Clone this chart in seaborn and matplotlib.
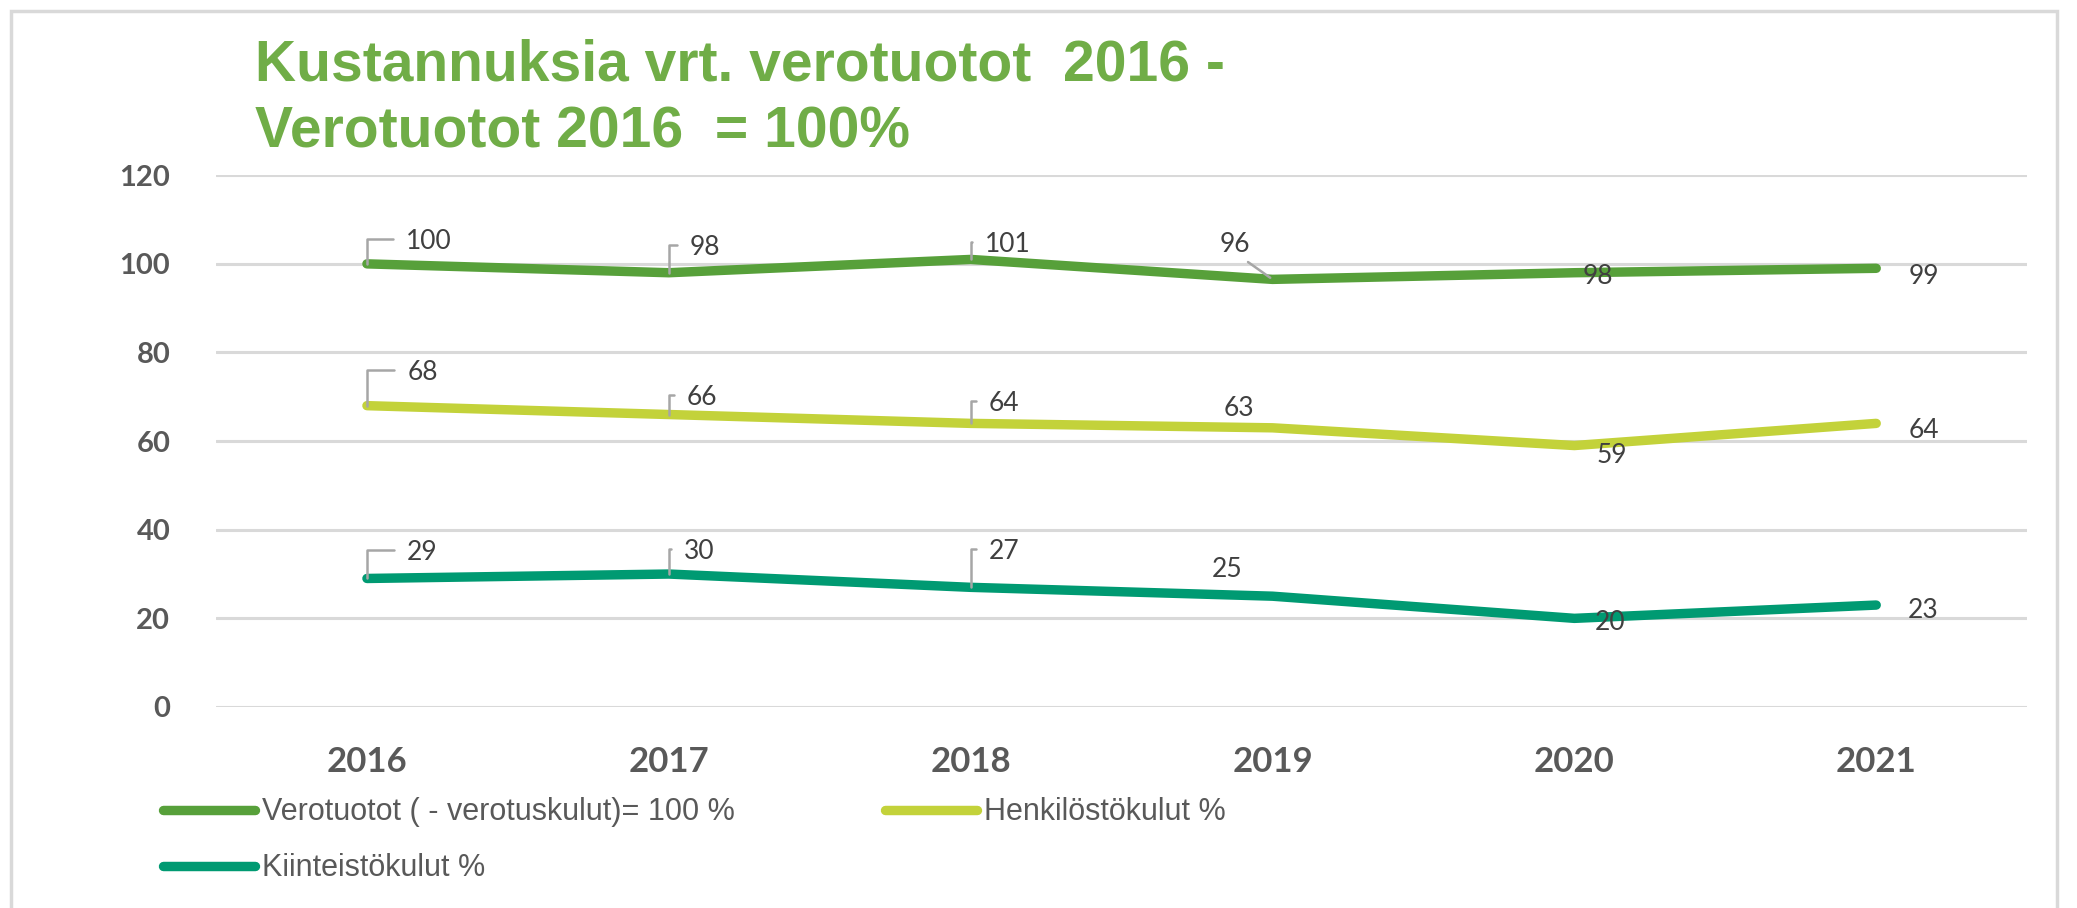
import matplotlib
matplotlib.use("Agg")
import matplotlib.pyplot as plt
import seaborn as sns
import pandas as pd
from matplotlib.patches import Rectangle

# data
years = ["2016", "2017", "2018", "2019", "2020", "2021"]
verotuotot = [100, 98, 101, 96, 98, 99]
henkilosto = [68, 66, 64, 63, 59, 64]
kiinteisto = [29, 30, 27, 25, 20, 23]
series_names = ["Verotuotot ( - verotuskulut)= 100 %", "Henkilöstökulut %", "Kiinteistökulut %"]
colors = ["#57A03A", "#C3D23A", "#009A72"]
title_lines = ["Kustannuksia vrt. verotuotot  2016 -", "Verotuotot 2016  = 100%"]
y_ticks = [0, 20, 40, 60, 80, 100, 120]

# line value shown at 2019 sits a bit lower than the label
line_values = [
    [100, 98, 101, 96.5, 98, 99],
    henkilosto,
    kiinteisto,
]
label_values = [verotuotot, henkilosto, kiinteisto]

# label offsets (points) and style: 'b' bracket leader, 'd' diagonal leader, '' none
label_pos = [
    [(28, 16, "b"), (15, 18, "b"), (10, 11, "b"), (-27, 25, "d"), (17, -3, ""), (34, -6, "")],
    [(29, 24, "b"), (13, 12, "b"), (13, 14, "b"), (-24, 14, ""), (27, -7, ""), (34, -5, "")],
    [(29, 19, "b"), (11, 16, "b"), (13, 26, "b"), (-33, 19, ""), (26, -3, ""), (34, -4, "")],
]

rows = []
for name, vals in zip(series_names, line_values):
    for y, v in zip(years, vals):
        rows.append({"vuosi": y, "arvo": v, "sarja": name})
df = pd.DataFrame(rows)

sns.set_theme(style="white")
plt.rcParams["font.family"] = ["Lato", "DejaVu Sans"]

fig = plt.figure(figsize=(20.77, 9.08), dpi=100)
ax = fig.add_axes([0.104, 0.2214, 0.872, 0.5856])

# gridlines
for t in y_ticks:
    ax.axhline(t, color="#D9D9D9", lw=2.2, zorder=0)

sns.lineplot(data=df, x="vuosi", y="arvo", hue="sarja", palette=colors,
             sort=False, lw=6.8, ax=ax, legend=False,
             solid_capstyle="round", solid_joinstyle="round")

ax.set_xlim(-0.5, 5.5)
ax.set_ylim(0, 120)
ax.set_yticks(y_ticks)
ax.set_xlabel("")
ax.set_ylabel("")
for s in ax.spines.values():
    s.set_visible(False)
ax.tick_params(axis="y", length=0, pad=33, labelsize=21, labelcolor="#595959")
ax.tick_params(axis="x", length=0, pad=28, labelsize=25, labelcolor="#595959")
for lab in ax.get_yticklabels() + ax.get_xticklabels():
    lab.set_fontweight("bold")

# data labels
for vals, lvals, pos in zip(line_values, label_values, label_pos):
    for i, (v, lv, (dx, dy, kind)) in enumerate(zip(vals, lvals, pos)):
        if kind == "b":
            ax.annotate(str(lv), xy=(i, v), xytext=(dx, dy), textcoords="offset points",
                        ha="left", va="center", fontsize=19, color="#404040",
                        arrowprops=dict(arrowstyle="-", color="#A6A6A6", lw=1.8,
                                        connectionstyle="angle,angleA=180,angleB=90,rad=0",
                                        relpos=(0, 0.6), shrinkA=7, shrinkB=0))
        elif kind == "d":
            ax.annotate(str(lv), xy=(i, v), xytext=(dx, dy), textcoords="offset points",
                        ha="center", va="center", fontsize=19, color="#404040",
                        arrowprops=dict(arrowstyle="-", color="#A6A6A6", lw=1.8,
                                        relpos=(0.7, 0), shrinkA=2, shrinkB=2))
        else:
            ax.annotate(str(lv), xy=(i, v), xytext=(dx, dy), textcoords="offset points",
                        ha="center", va="center", fontsize=19, color="#404040")

# title
title_font = ["Liberation Sans", "DejaVu Sans"]
fig.text(0.123, 0.958, title_lines[0], ha="left", va="top", fontsize=41,
         fontweight="bold", color="#70AD47", family=title_font)
fig.text(0.123, 0.884, title_lines[1], ha="left", va="top", fontsize=41,
         fontweight="bold", color="#70AD47", family=title_font)

# legend, filled column-wise by matplotlib -> reorder so rows read as in the picture
order = [0, 2, 1]
handles = [plt.Line2D([], [], color=colors[k], lw=6.8, solid_capstyle="round") for k in order]
fig.legend(handles, [series_names[k] for k in order], loc="upper left",
           bbox_to_anchor=(0.0785, 0.122),
           ncol=2, frameon=False, borderpad=0, borderaxespad=0,
           handlelength=3.0, handletextpad=0.25, columnspacing=4.9, labelspacing=0.85,
           labelcolor="#595959",
           prop={"family": ["Liberation Sans", "DejaVu Sans"], "size": 22})

# outer border
fig.patches.append(Rectangle((11 / 2077, -0.05), 2046 / 2077, 1.05 - 11 / 908,
                             transform=fig.transFigure, fill=False,
                             edgecolor="#D9D9D9", lw=2.5))

fig.savefig("out.png", dpi=100)
